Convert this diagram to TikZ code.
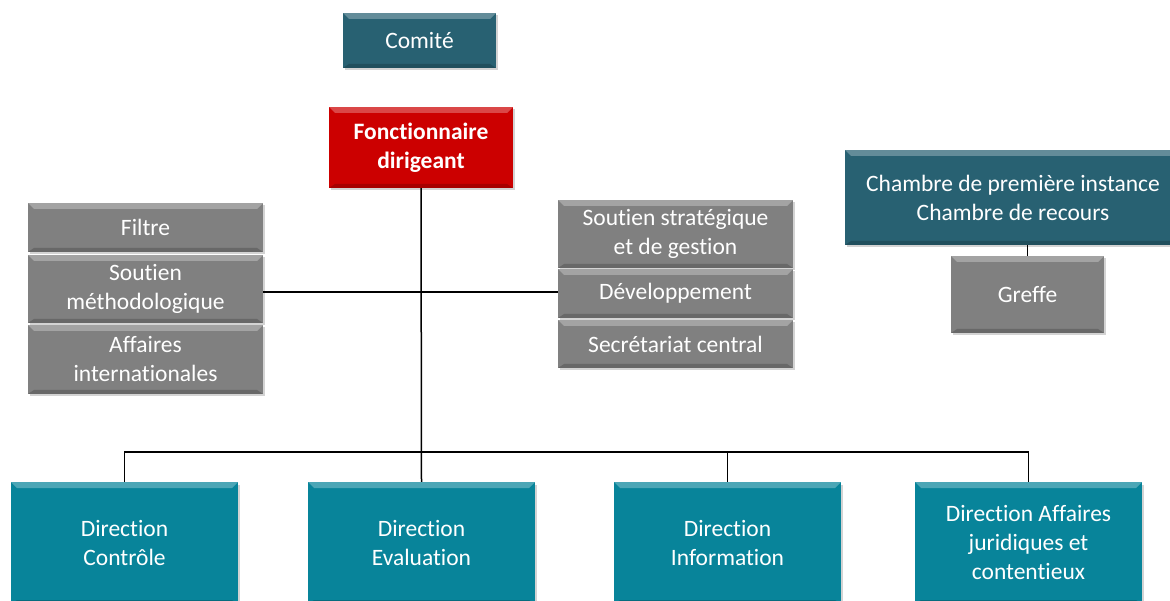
\documentclass[tikz,border=0pt]{standalone}
\usepackage{fontspec}
\setmainfont{Carlito}[Ligatures=NoCommon]
\usetikzlibrary{shadows}
\definecolor{tealdark}{HTML}{286172}
\definecolor{tealmid}{HTML}{08849A}
\definecolor{boxgray}{HTML}{808080}
\definecolor{boxred}{HTML}{CC0000}
\tikzset{
  bevel/.style={path picture={
      \fill[white,opacity=.28] (path picture bounding box.north west) -- (path picture bounding box.north east)
        -- ([xshift=-6pt,yshift=-6pt]path picture bounding box.north east) -- ([xshift=6pt,yshift=-6pt]path picture bounding box.north west) -- cycle;
      \fill[black,opacity=.18] (path picture bounding box.south west) -- (path picture bounding box.south east)
        -- ([xshift=-6pt,yshift=4pt]path picture bounding box.south east) -- ([xshift=6pt,yshift=4pt]path picture bounding box.south west) -- cycle;}},
  unit/.style={rectangle,inner sep=0pt,align=center,text=white,font=\fontsize{23.5}{29}\selectfont,
    bevel,drop shadow={shadow xshift=1.5pt,shadow yshift=-2.5pt,opacity=.35}},
  graybox/.style={unit,fill=boxgray,minimum width=235pt},
  dirbox/.style={unit,fill=tealmid,minimum width=227pt,minimum height=122pt},
  link/.style={draw,line width=1.5pt}
}
\begin{document}
\begin{tikzpicture}[x=1pt,y=-1pt]
  \useasboundingbox (0,0) rectangle (1170,601);
  \clip (0,0) rectangle (1170,601);
  % top
  \node[unit,fill=tealdark,minimum width=153pt,minimum height=55pt] (comite) at (419.5,40.5) {Comité};
  \node[unit,fill=boxred,minimum width=184pt,minimum height=81pt,font=\fontsize{23.5}{29}\selectfont\bfseries] (fd) at (421,147.5) {Fonctionnaire\\dirigeant};
  \node[unit,fill=tealdark,minimum width=336pt,minimum height=95pt] (chambre) at (1013,197.5) {Chambre de première instance\\Chambre de recours};
  \node[unit,fill=boxgray,minimum width=153pt,minimum height=77pt] (greffe) at (1027.5,294.5) {Greffe};
  % staff units, left
  \node[graybox,minimum height=49pt] (filtre) at (145.5,227.5) {Filtre};
  \node[graybox,minimum height=68pt] (methodo) at (145.5,289) {Soutien\\méthodologique};
  \node[graybox,minimum height=69pt] (intl) at (145.5,359.5) {Affaires\\internationales};
  % staff units, right
  \node[graybox,minimum height=68pt] (strat) at (675.5,234) {Soutien stratégique\\et de gestion};
  \node[graybox,minimum height=49pt] (devel) at (675.5,293.5) {Développement};
  \node[graybox,minimum height=48pt] (secr) at (675.5,344) {Secrétariat central};
  % directions
  \node[dirbox] (dctrl) at (124.5,543) {Direction\\Contrôle};
  \node[dirbox] (deval) at (421.5,543) {Direction\\Evaluation};
  \node[dirbox] (dinfo) at (727.5,543) {Direction\\Information};
  \node[dirbox] (djur) at (1028.5,543) {Direction Affaires\\juridiques et\\contentieux};
  % links
  \coordinate (bus) at (421,452);
  \coordinate (mid) at (421,292);
  \draw[link] (fd.south) -- (deval.north);
  \draw[link] (mid -| methodo.east) -- (mid -| strat.west);
  \draw[link] (dctrl.north) |- (bus -| djur.north) -- (djur.north);
  \draw[link] (dinfo.north) -- (dinfo.north |- bus);
  \draw[link] (chambre.south -| greffe.north) -- (greffe.north);
\end{tikzpicture}
\end{document}
